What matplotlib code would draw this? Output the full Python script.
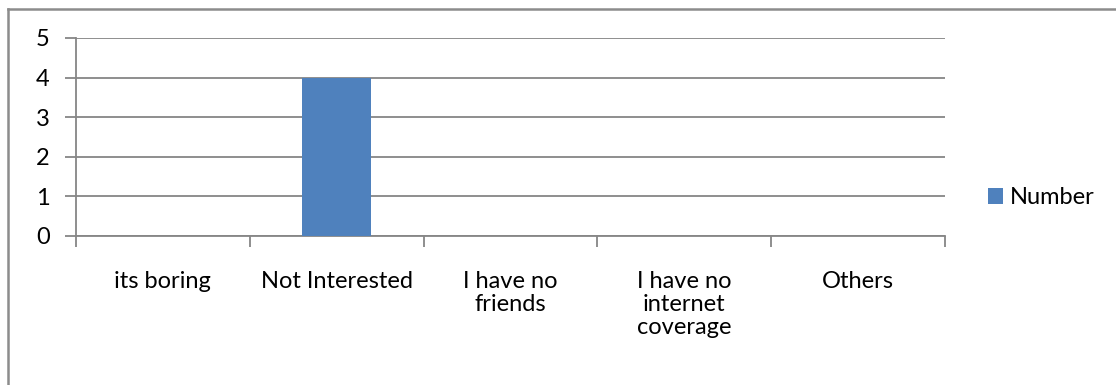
import matplotlib
matplotlib.use("Agg")
import matplotlib.pyplot as plt
from matplotlib.lines import Line2D
from matplotlib.patches import Patch

categories = ["its boring", "Not Interested", "I have no\nfriends",
              "I have no\ninternet\ncoverage", "Others"]
values = [0, 4, 0, 0, 0]
y_ticks = [0, 1, 2, 3, 4, 5]
series_name = "Number"

W, H, DPI = 1116, 385, 100
plt.rcParams["font.family"] = ["Lato", "DejaVu Sans"]
fig = plt.figure(figsize=(W / DPI, H / DPI), dpi=DPI)

grid_col = "#868686"
bar_col = "#4F81BD"
fs = 17

# plot area in pixel coordinates
x0, x1, ytop, ybot = 76, 945, 38, 236
ax = fig.add_axes([x0 / W, 1 - ybot / H, (x1 - x0) / W, (ybot - ytop) / H])

n = len(categories)
pos = list(range(n))
ax.bar(pos, values, width=0.40, color=bar_col, zorder=3)
ax.set_xlim(-0.5, n - 0.5)
ax.set_ylim(0, 5)

ax.set_yticks(y_ticks)
ax.set_yticklabels([str(t) for t in y_ticks], fontsize=fs, color="black")
ax.yaxis.grid(True, color=grid_col, linewidth=1.3, zorder=0)

ax.set_xticks([p - 0.5 for p in range(n + 1)])
ax.set_xticklabels([])
ax.set_xticks(pos, minor=True)
ax.set_xticklabels(categories, minor=True, fontsize=fs, linespacing=1.12,
                   va="top")
ax.tick_params(axis="x", which="minor", length=0, pad=25)
ax.tick_params(axis="x", which="major", length=8, width=1.3, color=grid_col)
ax.tick_params(axis="y", length=8, width=1.3, color=grid_col, pad=11)

for side in ("top", "right"):
    ax.spines[side].set_visible(False)
for side in ("left", "bottom"):
    ax.spines[side].set_color(grid_col)
    ax.spines[side].set_linewidth(1.3)

leg = fig.legend(handles=[Patch(facecolor=bar_col, label=series_name)],
                 loc="center left", bbox_to_anchor=(988 / W, 1 - 198 / H),
                 frameon=False, fontsize=fs, handlelength=0.64,
                 handleheight=0.64, handletextpad=0.3, borderpad=0,
                 borderaxespad=0)

# outer chart border (top and left edges visible)
fig.add_artist(Line2D([8 / W, 1.0], [1 - 8.5 / H, 1 - 8.5 / H],
                      transform=fig.transFigure, color="#8c8c8c", linewidth=1.8))
fig.add_artist(Line2D([8 / W, 8 / W], [0.0, 1 - 8.5 / H],
                      transform=fig.transFigure, color="#8c8c8c", linewidth=1.8))

fig.savefig("out.png", dpi=DPI, facecolor="white")
